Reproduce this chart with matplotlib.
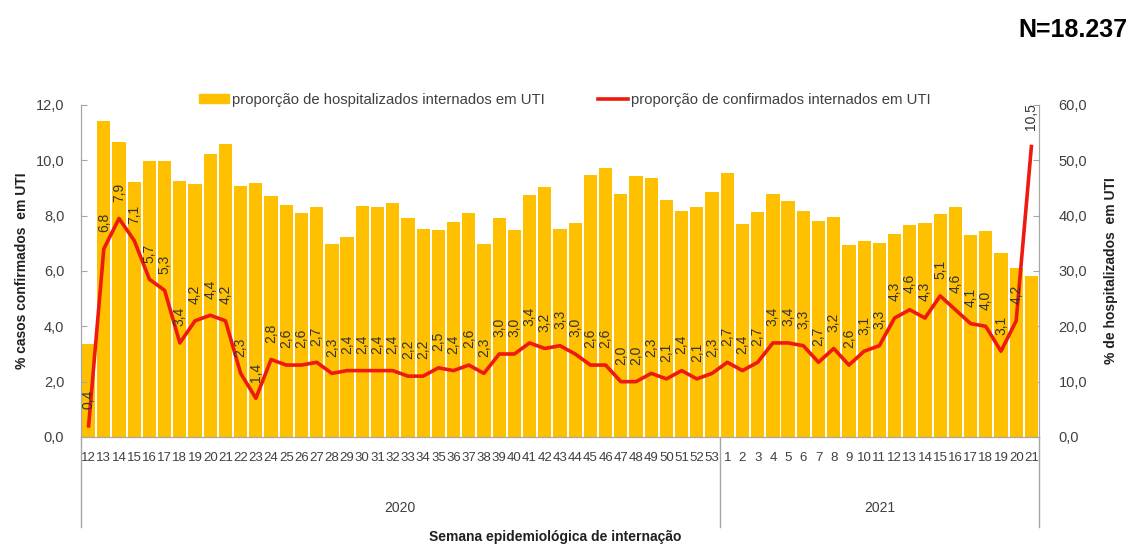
import matplotlib
matplotlib.use("Agg")
import matplotlib.pyplot as plt
from matplotlib.transforms import blended_transform_factory
from matplotlib.patches import Patch
from matplotlib.lines import Line2D

plt.rcParams['font.family'] = ['Liberation Sans', 'DejaVu Sans']

weeks_2020 = [str(w) for w in range(12, 54)]
weeks_2021 = [str(w) for w in range(1, 22)]
week_labels = weeks_2020 + weeks_2021
years = ["2020", "2021"]

hosp_uti = [16.8, 57.1, 53.3, 46.1, 49.9, 49.9, 46.3, 45.7, 51.1, 52.9,
            45.4, 45.9, 43.5, 42.0, 40.4, 41.6, 34.8, 36.2, 41.8, 41.6,
            42.3, 39.6, 37.6, 37.4, 38.8, 40.5, 34.8, 39.6, 37.4, 43.7,
            45.1, 37.6, 38.6, 47.3, 48.6, 44.0, 47.1, 46.8, 42.9, 40.8,
            41.6, 44.3,
            47.8, 38.5, 40.7, 44.0, 42.7, 40.8, 39.1, 39.7, 34.7, 35.5,
            35.1, 36.7, 38.4, 38.7, 40.3, 41.5, 36.5, 37.2, 33.3, 30.5,
            29.1]

conf_uti = [0.4, 6.8, 7.9, 7.1, 5.7, 5.3, 3.4, 4.2, 4.4, 4.2,
            2.3, 1.4, 2.8, 2.6, 2.6, 2.7, 2.3, 2.4, 2.4, 2.4,
            2.4, 2.2, 2.2, 2.5, 2.4, 2.6, 2.3, 3.0, 3.0, 3.4,
            3.2, 3.3, 3.0, 2.6, 2.6, 2.0, 2.0, 2.3, 2.1, 2.4,
            2.1, 2.3,
            2.7, 2.4, 2.7, 3.4, 3.4, 3.3, 2.7, 3.2, 2.6, 3.1,
            3.3, 4.3, 4.6, 4.3, 5.1, 4.6, 4.1, 4.0, 3.1, 4.2,
            10.5]

bar_color = '#FFC000'
line_color = '#EE1A10'
spine_color = '#A6A6A6'
text_color = '#404040'

W, H = 1132, 545
fig = plt.figure(figsize=(W / 100, H / 100), dpi=100)
L, R, B, T = 81, 1039, 437, 105
ax = fig.add_axes([L / W, 1 - B / H, (R - L) / W, (B - T) / H])
ax2 = ax.twinx()

x = list(range(len(week_labels)))

# bars on right axis (ax), line on left axis (ax2, drawn on top)
ax.bar(x, hosp_uti, width=0.87, color=bar_color, edgecolor='none', zorder=2)
ax.set_ylim(0, 60)
ax.set_xlim(-0.5, len(x) - 0.5)
ax.set_yticks(range(0, 61, 10))
ax.set_yticklabels([f"{v:.1f}".replace('.', ',') for v in range(0, 61, 10)])
ax.set_xticks(x)
ax.set_xticklabels(week_labels)
ax.tick_params(axis='x', length=0, pad=11, labelsize=9.5, labelcolor=text_color)
ax.tick_params(axis='y', direction='in', length=4, color=spine_color,
               labelsize=10.5, labelcolor=text_color, pad=14)
for s in ['left', 'right', 'bottom']:
    ax.spines[s].set_color(spine_color)
ax.spines['top'].set_visible(False)

ax2.plot(x, conf_uti, color=line_color, lw=2.6, zorder=3, solid_joinstyle='round')
ax2.set_ylim(0, 12)
ax2.set_yticks(range(0, 13, 2))
ax2.set_yticklabels([f"{v:.1f}".replace('.', ',') for v in range(0, 13, 2)])
ax2.tick_params(axis='y', direction='in', length=4, color=spine_color,
                labelsize=10.5, labelcolor=text_color, pad=12)
for s in ['left', 'right', 'bottom']:
    ax2.spines[s].set_color(spine_color)
ax2.spines['top'].set_visible(False)

ax.yaxis.tick_right()
ax.yaxis.set_label_position('right')
ax2.yaxis.tick_left()
ax2.yaxis.set_label_position('left')
ax.set_ylabel('% de hospitalizados  em UTI', fontsize=10, fontweight='bold',
              color='#202020', labelpad=12.5)
ax2.set_ylabel('% casos confirmados  em UTI', fontsize=10, fontweight='bold',
               color='#202020', labelpad=5)

for xi, v in zip(x, conf_uti):
    ax2.annotate(f"{v:.1f}".replace('.', ','), (xi, v), xytext=(0, 12),
                 textcoords='offset points', rotation=90, ha='center',
                 va='bottom', fontsize=10, color='#333333', annotation_clip=False)

# year separators and labels
trans = blended_transform_factory(ax.transData, ax.transAxes)
n20 = len(weeks_2020)
sep_x = [-0.5, n20 - 0.5, len(x) - 0.5]
for sx in sep_x:
    ax.plot([sx, sx], [0, -90 / (B - T)], transform=trans, color=spine_color,
            lw=1, clip_on=False)
ax.text((n20 - 1) / 2, -71 / (B - T), years[0], transform=trans, ha='center',
        va='center', fontsize=10, color=text_color)
ax.text(n20 + (len(weeks_2021) - 1) / 2, -71 / (B - T), years[1], transform=trans,
        ha='center', va='center', fontsize=10, color=text_color)

fig.text(555 / W, 1 - 537 / H, 'Semana epidemiológica de internação',
         ha='center', va='center', fontsize=10, fontweight='bold', color='#202020')
fig.text(1127 / W, 1 - 30 / H, 'N=18.237', ha='right', va='center',
         fontsize=18, fontweight='bold', color='black')

handles = [Patch(color=bar_color), Line2D([0], [0], color=line_color, lw=2.6)]
labels = ['proporção de hospitalizados internados em UTI',
          'proporção de confirmados internados em UTI']
fig.legend(handles, labels, loc='center left', bbox_to_anchor=(199 / W, 1 - 100 / H),
           ncol=2, frameon=False, fontsize=10.75, handlelength=2.0, handleheight=0.5,
           handletextpad=0.2, columnspacing=3.6, labelcolor=text_color,
           borderpad=0, borderaxespad=0)

fig.savefig('out.png', dpi=100)
